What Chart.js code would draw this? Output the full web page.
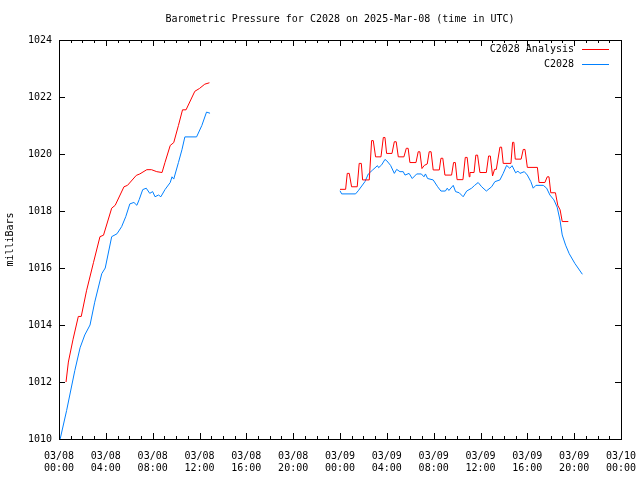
<!DOCTYPE html>
<html>
<head>
<meta charset="utf-8">
<script src="https://cdn.jsdelivr.net/npm/chart.js@4/dist/chart.umd.min.js"></script>
<style>
  body { margin: 0; background: #fff; }
  canvas { display: block; }
</style>
</head>
<body>
<canvas id="c" width="640" height="480"></canvas>
<script>
// hours since 03/08 00:00 UTC, pressure in mb
const analysisPart1 = [[0.6,1012.0],[0.8,1012.7],[1.2,1013.5],[1.65,1014.3],[1.9,1014.3],[2.35,1015.2],[2.95,1016.2],[3.5,1017.1],[3.8,1017.15],[4.5,1018.1],[4.8,1018.2],[5.55,1018.85],[5.85,1018.9],[6.6,1019.25],[6.9,1019.3],[7.5,1019.45],[7.9,1019.45],[8.35,1019.38],[8.8,1019.35],[9.05,1019.7],[9.5,1020.3],[9.8,1020.4],[10.2,1021.0],[10.55,1021.55],[10.85,1021.55],[11.6,1022.2],[12.0,1022.3],[12.45,1022.45],[12.85,1022.5]];
const analysisPart2 = [[24.0,1018.76],[24.48,1018.76],[24.62,1019.32],[24.79,1019.32],[24.99,1018.85],[25.47,1018.85],[25.64,1019.67],[25.82,1019.67],[25.93,1019.09],[26.5,1019.09],[26.7,1020.47],[26.84,1020.47],[27.04,1019.9],[27.5,1019.9],[27.7,1020.58],[27.84,1020.58],[27.98,1020.02],[28.44,1020.02],[28.64,1020.43],[28.8,1020.43],[28.98,1019.9],[29.46,1019.9],[29.66,1020.2],[29.82,1020.2],[29.97,1019.7],[30.49,1019.7],[30.68,1020.08],[30.82,1020.08],[31.0,1019.49],[31.2,1019.6],[31.45,1019.65],[31.62,1020.08],[31.78,1020.08],[31.96,1019.44],[32.48,1019.44],[32.62,1019.85],[32.78,1019.85],[32.96,1019.26],[33.53,1019.26],[33.7,1019.7],[33.85,1019.7],[34.0,1019.1],[34.5,1019.1],[34.7,1019.88],[34.86,1019.88],[35.04,1019.2],[35.1,1019.35],[35.45,1019.35],[35.6,1019.96],[35.75,1019.96],[35.95,1019.35],[36.5,1019.35],[36.69,1019.93],[36.84,1019.93],[37.03,1019.23],[37.2,1019.46],[37.35,1019.46],[37.66,1020.24],[37.8,1020.24],[37.94,1019.67],[38.6,1019.67],[38.74,1020.41],[38.85,1020.41],[38.97,1019.82],[39.47,1019.82],[39.65,1020.16],[39.8,1020.16],[40.0,1019.53],[40.86,1019.53],[41.0,1019.0],[41.5,1019.0],[41.7,1019.2],[41.85,1019.2],[42.0,1018.64],[42.4,1018.64],[42.6,1018.2],[42.8,1018.04],[42.98,1017.63],[43.5,1017.63]];
const stationPart1 = [[0.1,1010.0],[0.65,1011.0],[1.35,1012.4],[1.8,1013.2],[2.2,1013.65],[2.65,1014.0],[3.05,1014.8],[3.65,1015.8],[3.95,1016.0],[4.5,1017.1],[4.95,1017.2],[5.35,1017.45],[5.7,1017.8],[6.05,1018.25],[6.4,1018.3],[6.65,1018.2],[6.85,1018.4],[7.15,1018.75],[7.45,1018.8],[7.75,1018.62],[8.0,1018.68],[8.2,1018.5],[8.5,1018.56],[8.7,1018.5],[9.05,1018.75],[9.5,1019.0],[9.65,1019.2],[9.8,1019.12],[10.2,1019.7],[10.5,1020.15],[10.75,1020.6],[11.75,1020.6],[12.2,1021.0],[12.6,1021.47],[12.9,1021.43]];
const stationPart2 = [[24.0,1018.71],[24.14,1018.6],[25.33,1018.6],[25.56,1018.71],[26.13,1019.03],[26.42,1019.3],[26.79,1019.44],[27.2,1019.59],[27.3,1019.52],[27.56,1019.62],[27.84,1019.81],[28.0,1019.76],[28.32,1019.6],[28.64,1019.32],[28.84,1019.46],[29.12,1019.38],[29.4,1019.38],[29.55,1019.26],[29.9,1019.32],[30.17,1019.14],[30.55,1019.3],[30.95,1019.3],[31.17,1019.2],[31.3,1019.3],[31.48,1019.14],[31.96,1019.09],[32.34,1018.85],[32.62,1018.7],[33.0,1018.7],[33.16,1018.8],[33.3,1018.72],[33.67,1018.9],[33.87,1018.68],[34.18,1018.64],[34.52,1018.5],[34.82,1018.7],[35.24,1018.8],[35.5,1018.9],[35.8,1019.0],[36.1,1018.85],[36.5,1018.7],[36.95,1018.85],[37.23,1019.03],[37.66,1019.09],[37.94,1019.32],[38.23,1019.6],[38.5,1019.5],[38.7,1019.59],[39.0,1019.34],[39.2,1019.4],[39.37,1019.32],[39.74,1019.38],[40.0,1019.26],[40.3,1019.03],[40.5,1018.8],[40.73,1018.9],[41.36,1018.9],[41.65,1018.8],[41.93,1018.56],[42.27,1018.39],[42.55,1018.13],[42.79,1017.68],[42.98,1017.16],[43.27,1016.8],[43.58,1016.5],[44.06,1016.16],[44.7,1015.78]];

const xTickLabels = [['03/08','00:00'],['03/08','04:00'],['03/08','08:00'],['03/08','12:00'],['03/08','16:00'],['03/08','20:00'],['03/09','00:00'],['03/09','04:00'],['03/09','08:00'],['03/09','12:00'],['03/09','16:00'],['03/09','20:00'],['03/10','00:00']];
const yTickValues = [1010, 1012, 1014, 1016, 1018, 1020, 1022, 1024];

const FONT = '10px "DejaVu Sans Mono", monospace';

function joinParts(a, b) {
  return a.map(p => ({x: p[0], y: p[1]}))
    .concat([{x: 18, y: null}])
    .concat(b.map(p => ({x: p[0], y: p[1]})));
}

const gnuplotFrame = {
  id: 'gnuplotFrame',
  afterDraw(chart) {
    const ctx = chart.ctx;
    const a = chart.chartArea;
    const xs = chart.scales.x, ys = chart.scales.y;
    ctx.save();
    ctx.strokeStyle = '#000';
    ctx.lineWidth = 1;
    ctx.strokeRect(Math.round(a.left) + 0.5, Math.round(a.top) + 0.5, Math.round(a.right - a.left), Math.round(a.bottom - a.top));
    ctx.beginPath();
    for (let h = 0; h <= 48; h++) {
      const px = Math.round(xs.getPixelForValue(h)) + 0.5;
      const len = h % 4 === 0 ? 6 : 3;
      ctx.moveTo(px, a.bottom); ctx.lineTo(px, a.bottom - len);
      ctx.moveTo(px, a.top); ctx.lineTo(px, a.top + len);
    }
    yTickValues.forEach(v => {
      const py = Math.round(ys.getPixelForValue(v)) + 0.5;
      ctx.moveTo(a.left, py); ctx.lineTo(a.left + 6, py);
      ctx.moveTo(a.right, py); ctx.lineTo(a.right - 6, py);
    });
    ctx.stroke();

    ctx.fillStyle = '#000';
    ctx.font = FONT;
    ctx.textBaseline = 'middle';
    ctx.textAlign = 'center';
    ctx.fillText('Barometric Pressure for C2028 on 2025-Mar-08 (time in UTC)', (a.left + a.right) / 2, 19);

    ctx.save();
    ctx.translate(10, (a.top + a.bottom) / 2);
    ctx.rotate(-Math.PI / 2);
    ctx.fillText('milliBars', 0, 0);
    ctx.restore();

    // legend: label text on the left, line sample on the right
    ctx.textAlign = 'right';
    chart.data.datasets.forEach((ds, i) => {
      const y = 49 + i * 15;
      ctx.fillStyle = '#000';
      ctx.fillText(ds.label, 574, y);
      ctx.strokeStyle = ds.borderColor;
      ctx.beginPath();
      ctx.moveTo(582, y + 0.5); ctx.lineTo(609, y + 0.5);
      ctx.stroke();
    });
    ctx.restore();
  }
};

new Chart(document.getElementById('c'), {
  type: 'line',
  data: {
    datasets: [{
      label: 'C2028 Analysis',
      data: joinParts(analysisPart1, analysisPart2),
      borderColor: '#ff0000',
      borderWidth: 1,
      pointRadius: 0,
      tension: 0,
      spanGaps: false
    }, {
      label: 'C2028',
      data: joinParts(stationPart1, stationPart2),
      borderColor: '#0080ff',
      borderWidth: 1,
      pointRadius: 0,
      tension: 0,
      spanGaps: false
    }]
  },
  options: {
    responsive: false,
    animation: false,
    layout: { padding: { top: 40, right: 19, left: 0, bottom: 0 } },
    plugins: {
      legend: { display: false },
      title: { display: false },
      tooltip: { enabled: false }
    },
    scales: {
      x: {
        type: 'linear',
        min: 0,
        max: 48,
        afterFit(s) { s.height = 41; s.paddingLeft = 0; s.paddingRight = 0; },
        grid: { display: false, drawTicks: false },
        border: { display: false },
        ticks: {
          stepSize: 4,
          autoSkip: false,
          maxRotation: 0,
          padding: 11,
          color: '#000',
          font: { family: '"DejaVu Sans Mono", monospace', size: 10 },
          callback: v => xTickLabels[v / 4]
        }
      },
      y: {
        min: 1010,
        max: 1024,
        afterFit(s) { s.width = 59; s.paddingTop = 0; s.paddingBottom = 0; },
        afterBuildTicks(s) { s.ticks = yTickValues.map(v => ({value: v})); },
        grid: { display: false, drawTicks: false },
        border: { display: false },
        ticks: {
          padding: 7,
          color: '#000',
          font: { family: '"DejaVu Sans Mono", monospace', size: 10 },
          callback: v => String(v)
        }
      }
    }
  },
  plugins: [gnuplotFrame]
});
</script>
</body>
</html>
